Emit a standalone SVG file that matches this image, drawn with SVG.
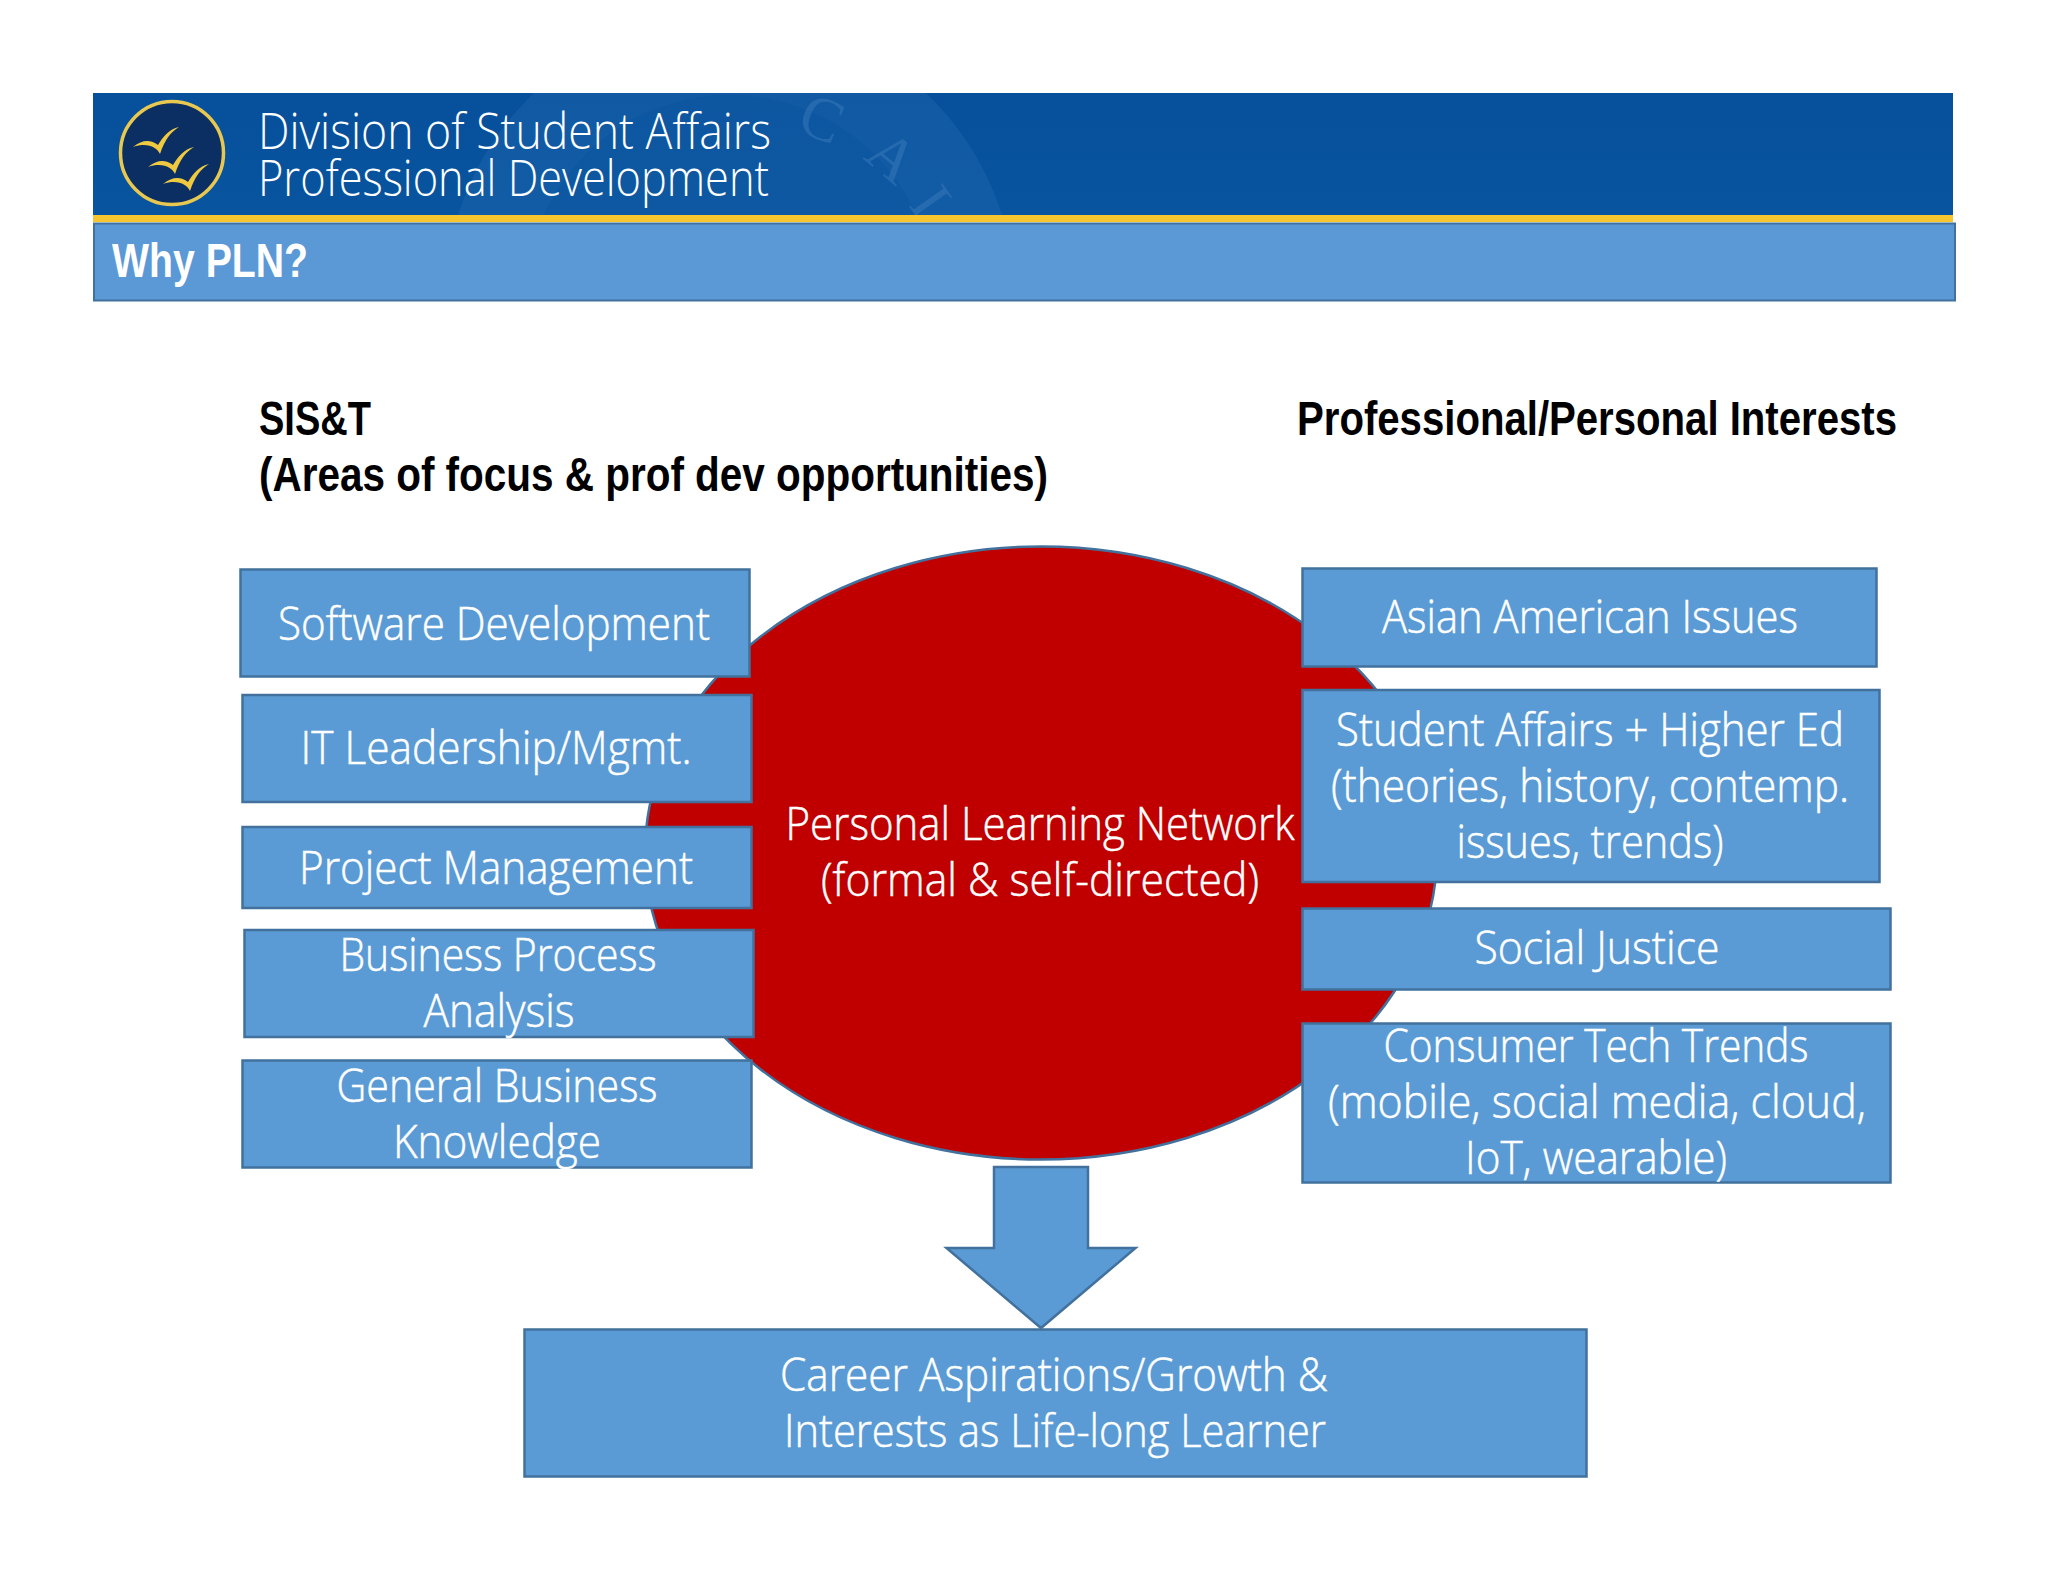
<svg xmlns="http://www.w3.org/2000/svg" width="2048" height="1582" viewBox="0 0 2048 1582">
<defs>
<style>
.b{fill:#5b9bd5;stroke:#41719c;stroke-width:2.5}
.t{font-family:"Open Sans","Noto Sans",sans-serif;font-weight:300;font-size:46px;fill:#fff;text-anchor:middle;stroke:#fff;stroke-width:.5}
.h{font-family:"Liberation Sans",Arial,sans-serif;font-weight:700;font-size:49px;fill:#000}
.hd{font-family:"Open Sans","Noto Sans",sans-serif;font-weight:300;font-size:50px;fill:#fff}
.wm{font-family:"Liberation Serif",serif;font-size:62px;fill:#3f7fbd;opacity:.45}
</style>
<linearGradient id="hg" x1="0" y1="0" x2="0" y2="1"><stop offset="0" stop-color="#07509b"/><stop offset="1" stop-color="#08549f"/></linearGradient>
<clipPath id="hc"><rect x="93" y="93" width="1860" height="122"/></clipPath>
<path id="bird" fill="#efc93f" d="M0 8C10 0 18 1 25 6C30-2 36-10 46-12C38-7 32 0 27 15C24 8 14 3 0 8Z"/>
</defs>
<rect width="2048" height="1582" fill="#fff"/>
<g id="header">
<rect x="93" y="93" width="1860" height="123" fill="url(#hg)"/>
<g clip-path="url(#hc)">
<circle cx="730" cy="300" r="285" fill="#2a70b5" opacity=".3"/>
<circle cx="730" cy="300" r="205" fill="#07509b" opacity=".3"/>
<text class="wm" transform="translate(795 130) rotate(22)">C</text>
<text class="wm" transform="translate(862 158) rotate(40)">A</text>
<text class="wm" transform="translate(908 205) rotate(55)">L</text>
</g>
<rect x="93" y="215" width="1860" height="7" fill="#f6c530"/>
<circle cx="172" cy="153" r="51.500" fill="#0b2f63" stroke="#e8c850" stroke-width="3.500"/>
<use href="#bird" x="133" y="139"/>
<use href="#bird" x="148" y="159"/>
<use href="#bird" x="163" y="176"/>
<text class="hd" x="258" y="149" textLength="513" lengthAdjust="spacingAndGlyphs">Division of Student Affairs</text>
<text class="hd" x="258" y="196" textLength="511" lengthAdjust="spacingAndGlyphs">Professional Development</text>
</g>
<g id="title-bar">
<rect x="94" y="223.500" width="1861" height="77" fill="#5b98d6" stroke="#41719c" stroke-width="2"/>
<text x="112" y="277" font-family="Liberation Sans,Arial,sans-serif" font-weight="700" font-size="48" fill="#fff" textLength="196" lengthAdjust="spacingAndGlyphs">Why PLN?</text>
</g>
<g id="headings">
<text class="h" x="259" y="435" textLength="112" lengthAdjust="spacingAndGlyphs">SIS&amp;T</text>
<text class="h" x="259" y="491" textLength="789" lengthAdjust="spacingAndGlyphs">(Areas of focus &amp; prof dev opportunities)</text>
<text class="h" x="1297" y="435" textLength="600" lengthAdjust="spacingAndGlyphs">Professional/Personal Interests</text>
</g>
<g id="pln">
<ellipse cx="1041" cy="853" rx="396" ry="306.500" fill="#c00000" stroke="#41719c" stroke-width="2.500"/>
<text class="t" x="1040" y="840" textLength="509" lengthAdjust="spacingAndGlyphs">Personal Learning Network</text>
<text class="t" x="1040" y="896" textLength="438" lengthAdjust="spacingAndGlyphs">(formal &amp; self-directed)</text>
</g>
<g id="n1"><rect class="b" x="240.500" y="569.500" width="509" height="107"/><text class="t" x="494" y="640" textLength="432" lengthAdjust="spacingAndGlyphs">Software Development</text></g>
<g id="n2"><rect class="b" x="242.500" y="695" width="509" height="107"/><text class="t" x="496" y="764" textLength="391" lengthAdjust="spacingAndGlyphs">IT Leadership/Mgmt.</text></g>
<g id="n3"><rect class="b" x="242.500" y="827" width="509" height="81"/><text class="t" x="496" y="884" textLength="394" lengthAdjust="spacingAndGlyphs">Project Management</text></g>
<g id="n4"><rect class="b" x="244.500" y="930" width="509" height="107"/><text class="t" x="498" y="971" textLength="317" lengthAdjust="spacingAndGlyphs">Business Process</text><text class="t" x="499" y="1027" textLength="151" lengthAdjust="spacingAndGlyphs">Analysis</text></g>
<g id="n5"><rect class="b" x="242.500" y="1060.500" width="509" height="107"/><text class="t" x="497" y="1102" textLength="321" lengthAdjust="spacingAndGlyphs">General Business</text><text class="t" x="497" y="1158" textLength="208" lengthAdjust="spacingAndGlyphs">Knowledge</text></g>
<g id="n6"><rect class="b" x="1302.500" y="568.500" width="574" height="98"/><text class="t" x="1590" y="633" textLength="416" lengthAdjust="spacingAndGlyphs">Asian American Issues</text></g>
<g id="n7"><rect class="b" x="1302.500" y="690" width="577" height="192"/><text class="t" x="1590" y="746" textLength="508" lengthAdjust="spacingAndGlyphs">Student Affairs + Higher Ed</text><text class="t" x="1590" y="802" textLength="518" lengthAdjust="spacingAndGlyphs">(theories, history, contemp.</text><text class="t" x="1590" y="858" textLength="267" lengthAdjust="spacingAndGlyphs">issues, trends)</text></g>
<g id="n8"><rect class="b" x="1302.500" y="908.500" width="588" height="81"/><text class="t" x="1597" y="964" textLength="245" lengthAdjust="spacingAndGlyphs">Social Justice</text></g>
<g id="n9"><rect class="b" x="1302.500" y="1023.500" width="588" height="159"/><text class="t" x="1596" y="1062" textLength="425" lengthAdjust="spacingAndGlyphs">Consumer Tech Trends</text><text class="t" x="1597" y="1118" textLength="538" lengthAdjust="spacingAndGlyphs">(mobile, social media, cloud,</text><text class="t" x="1596" y="1174" textLength="262" lengthAdjust="spacingAndGlyphs">IoT, wearable)</text></g>
<g id="connectors"><path class="b" d="M994 1167H1088V1248H1135.500L1041 1328L946.500 1248H994Z"/></g>
<g id="n10"><rect class="b" x="524.500" y="1329.500" width="1062" height="147"/><text class="t" x="1054" y="1391" textLength="548" lengthAdjust="spacingAndGlyphs">Career Aspirations/Growth &amp;</text><text class="t" x="1055" y="1447" textLength="542" lengthAdjust="spacingAndGlyphs">Interests as Life-long Learner</text></g>
</svg>
